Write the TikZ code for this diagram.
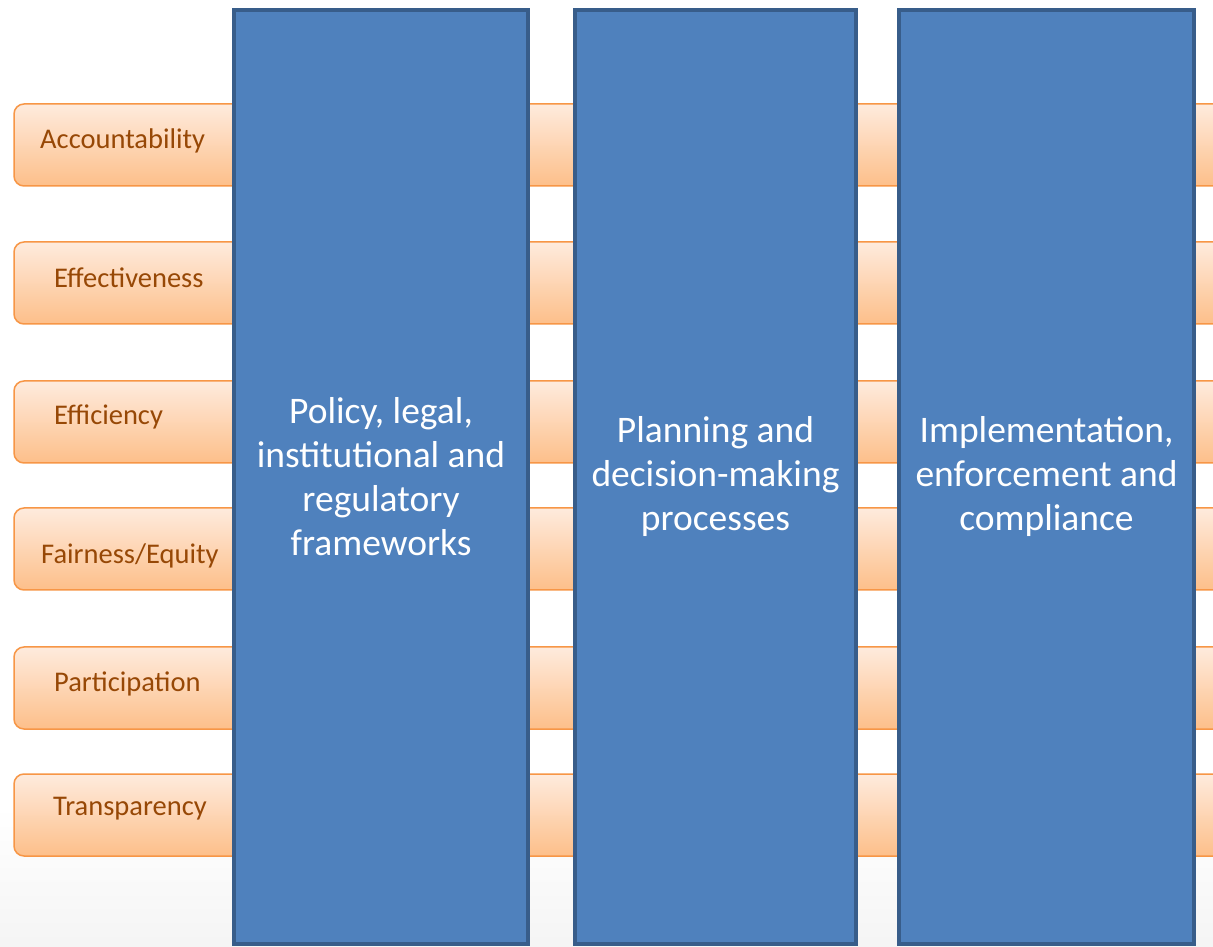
\documentclass[tikz,border=0pt]{standalone}
\usepackage{fontspec}
\setmainfont{Carlito}
\definecolor{blueF}{HTML}{4F81BD}
\definecolor{blueD}{HTML}{385D8A}
\definecolor{orgD}{HTML}{F79646}
\definecolor{orgT}{HTML}{FEEBDD}
\definecolor{orgB}{HTML}{FDBF8A}
\definecolor{brownT}{HTML}{974806}
\tikzset{
  orangebar/.style={draw=orgD, line width=1.5pt, top color=orgT, bottom color=orgB, rounded corners=10pt},
  lbl/.style={anchor=west, text=brownT, font=\fontsize{28.5}{32}\selectfont, inner sep=0pt},
  column/.style={draw=blueD, fill=blueF, line width=3.5pt, text=white, align=center, inner sep=0pt,
     font=\fontsize{37.5}{44}\selectfont},
}
\begin{document}
\begin{tikzpicture}[x=1pt,y=1pt]
\useasboundingbox (0,0) rectangle (1213,946);
\clip (0,0) rectangle (1213,946);
\fill[white] (0,0) rectangle (1213,946);
\shade[top color=white, bottom color=black!4] (0,0) rectangle (1213,140);
% orange bars (behind columns)
\foreach \t/\b in {842/760, 704/622, 565/483, 438/356, 299/217, 172/90}{
  \path[orangebar] (1240,\t) -- (14,\t) -- (14,\b) -- (1240,\b);
}
% labels
\node[lbl] (acc) at (40,805) {Accountability};
\node[lbl] (eff) at (54,668) {Effectiveness};
\node[lbl] (effic) at (54,529) {Efficiency};
\node[lbl] (fair) at (41,390) {Fairness/Equity};
\node[lbl] (part) at (54,262) {Participation};
\node[lbl] (trans) at (53,137) {Transparency};
% columns
\node[column, minimum width=294pt, minimum height=934pt] (c1) at (381,469)
  {Policy, legal,\\institutional and\\regulatory\\frameworks};
\node[column, minimum width=281pt, minimum height=934pt] (c2) at (715.5,469)
  {Planning and\\decision-making\\processes};
\node[column, minimum width=295pt, minimum height=934pt] (c3) at (1046.5,469)
  {Implementation,\\enforcement and\\compliance};
\end{tikzpicture}
\end{document}
